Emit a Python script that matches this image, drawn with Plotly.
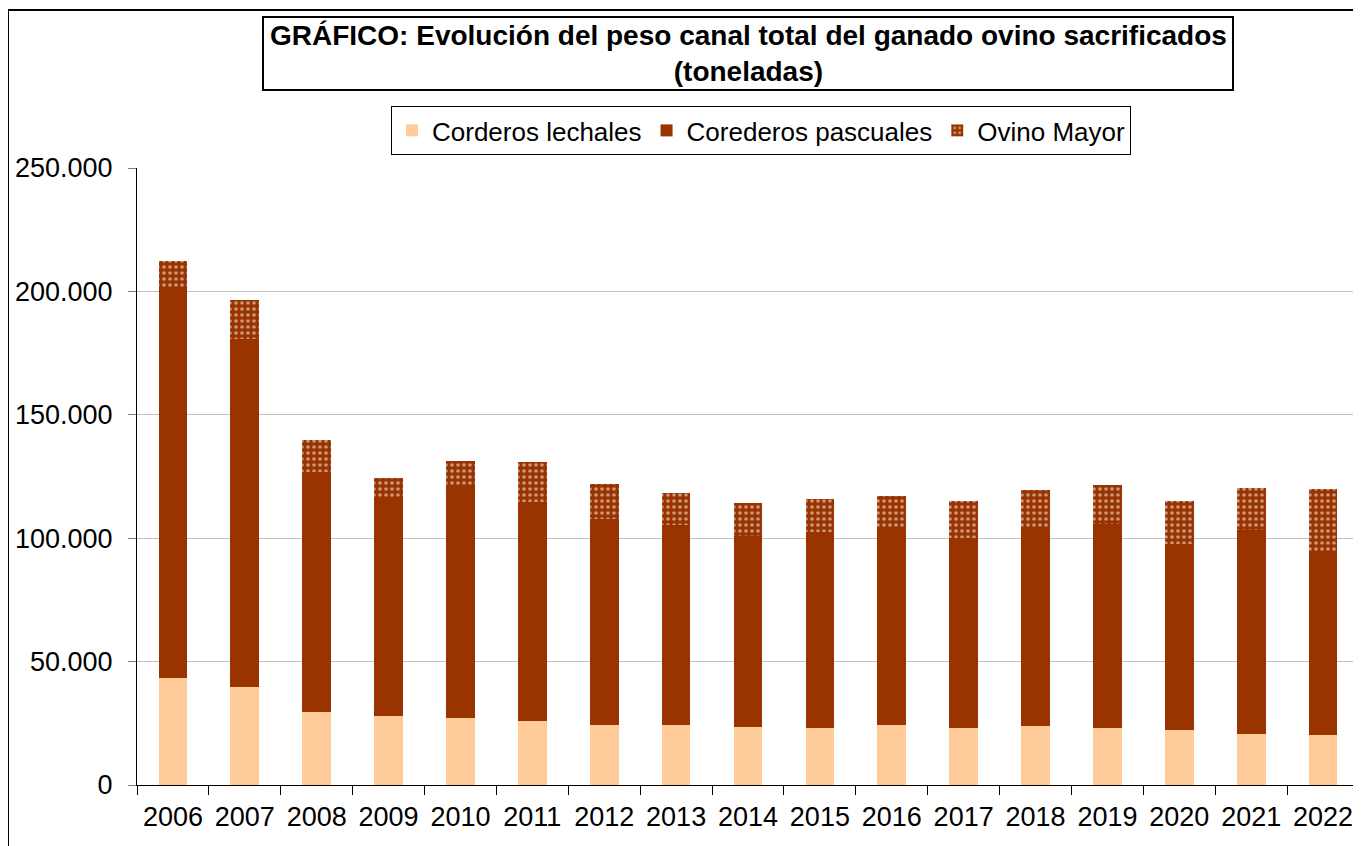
import plotly.graph_objects as go

years = ["2006", "2007", "2008", "2009", "2010", "2011", "2012", "2013", "2014",
         "2015", "2016", "2017", "2018", "2019", "2020", "2021", "2022"]
corderos_lechales = [43300, 39700, 29600, 27900, 27100, 25900, 24300, 24300, 23500,
                     23100, 24300, 23100, 23900, 23100, 22300, 20700, 20300]
corderos_pascuales = [158000, 140900, 97200, 88300, 94000, 88700, 83400, 81000, 77400,
                      79400, 79400, 76900, 80200, 82600, 75300, 82600, 74100]
ovino_mayor = [10900, 15800, 12900, 8100, 10100, 16200, 14200, 13000, 13300,
               13300, 13400, 15000, 15400, 15800, 17400, 17000, 25500]
y_ticks = [0, 50000, 100000, 150000, 200000, 250000]

FONT = "Arial, Liberation Sans, sans-serif"

fig = go.Figure()
fig.add_trace(go.Bar(x=years, y=corderos_lechales, name="Corderos lechales",
                     marker=dict(color="#FFCC99", line=dict(width=0))))
fig.add_trace(go.Bar(x=years, y=corderos_pascuales, name="Corederos pascuales",
                     marker=dict(color="#993300", line=dict(width=0))))
fig.add_trace(go.Bar(x=years, y=ovino_mayor, name="Ovino Mayor",
                     marker=dict(color="#993300", line=dict(width=0),
                                 pattern=dict(shape=".", fgcolor="white", size=6,
                                              solidity=0.28, fillmode="overlay"))))

# plot area geometry on screen: x 137..1359, y 168..785 (page has an 8px body offset)
def px(x):
    return (x - 137) / 1222

def py(y):
    return (785 - y) / 617

fig.update_layout(
    width=1353, height=838,
    barmode="stack", bargap=0.6,
    separators=",.",
    paper_bgcolor="white", plot_bgcolor="white",
    margin=dict(l=129, r=2, t=160, b=61),
    font=dict(family=FONT, size=27, color="black"),
    showlegend=True,
    legend=dict(orientation="h", x=px(761), y=py(106), xanchor="center", yanchor="top",
                bordercolor="black", borderwidth=1, bgcolor="white",
                font=dict(family=FONT, size=26), traceorder="normal",
                itemwidth=30),
    xaxis=dict(type="category", showline=True, linecolor="black", linewidth=1,
               ticks="outside", tickson="boundaries", ticklen=9, tickcolor="black",
               ticklabelstandoff=8,
               showgrid=False, tickfont=dict(family=FONT, size=27)),
    yaxis=dict(range=[0, 250000], tickvals=y_ticks, tickformat=",d",
               showline=True, linecolor="black", linewidth=1,
               ticks="outside", ticklen=8, tickcolor="#808080",
               ticklabelstandoff=10,
               showgrid=True, gridcolor="#C0C0C0", gridwidth=1,
               zeroline=False, tickfont=dict(family=FONT, size=27)),
    shapes=[
        dict(type="rect", xref="paper", yref="paper", x0=px(8), x1=px(1358),
             y0=py(870), y1=py(10), line=dict(color="black", width=2), layer="below"),
        dict(type="rect", xref="paper", yref="paper", x0=px(263), x1=px(1233),
             y0=py(90), y1=py(17), line=dict(color="black", width=2),
             fillcolor="white", layer="below"),
    ],
    annotations=[
        dict(xref="paper", yref="paper", x=px(748), y=py(54), xanchor="center",
             yanchor="middle", showarrow=False, align="center",
             text="<b>GRÁFICO: Evolución del peso canal total del ganado ovino sacrificados<br>(toneladas)</b>",
             font=dict(family=FONT, size=28, color="black")),
    ],
)

fig.write_html("out.html")
